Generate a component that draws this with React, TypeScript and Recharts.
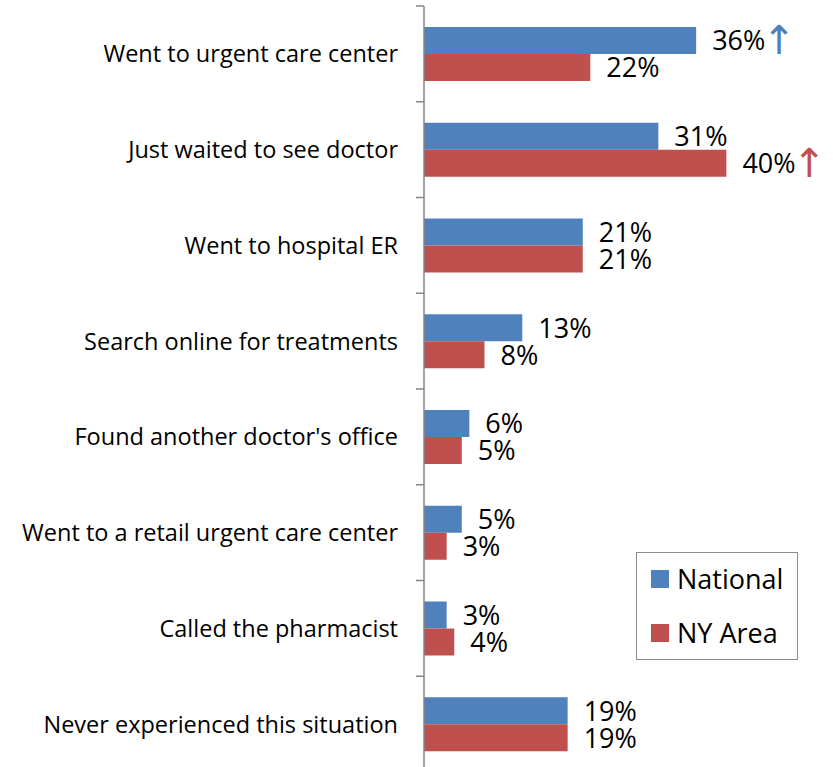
import React from 'react';
import { BarChart, Bar, XAxis, YAxis, LabelList, Legend } from 'recharts';

const categories = [
  'Went to urgent care center',
  'Just waited to see doctor',
  'Went to hospital ER',
  'Search online for treatments',
  "Found another doctor's office",
  'Went to a retail urgent care center',
  'Called the pharmacist',
  'Never experienced this situation',
];
const nationalValues = [36, 31, 21, 13, 6, 5, 3, 19];
const nyAreaValues = [22, 40, 21, 8, 5, 3, 4, 19];
const nationalUp = [true, false, false, false, false, false, false, false];
const nyAreaUp = [false, true, false, false, false, false, false, false];
const seriesNames = ['National', 'NY Area'];

const BLUE = '#4F81BD';
const RED = '#C0504D';
const AXIS = '#868686';
const FONT = '"Open Sans", Lato, sans-serif';
const LEGEND_H = 108;

const data = categories.map((c, i) => ({
  category: c,
  national: nationalValues[i],
  ny: nyAreaValues[i],
}));

const makeLabel = (upList: boolean[], color: string) => (props: any) => {
  const { x, y, width, height, value, index } = props;
  const tx = Number(x) + Number(width) + 16;
  const ty = Number(y) + Number(height) / 2;
  return (
    <text x={tx} y={ty} dy="0.37em" fontFamily={FONT} fontSize={27} fill="#000">
      {`${value}%`}
      {upList[index] ? (
        <tspan dx={-3} dy={4} fill={color} fontFamily='"DejaVu Sans"' fontSize={40}>
          ↑
        </tspan>
      ) : null}
    </text>
  );
};

const CategoryTick = (props: any) => {
  const { x, y, payload, index, visibleTicksCount } = props;
  const half = payload && payload.offset ? payload.offset : 48;
  const axisX = Number(x) + 26;
  const isLast = index === (visibleTicksCount ?? categories.length) - 1;
  return (
    <g>
      <line x1={axisX - 8} x2={axisX} y1={y - half} y2={y - half} stroke={AXIS} strokeWidth={1.5} />
      {isLast ? (
        <line x1={axisX - 8} x2={axisX} y1={y + half} y2={y + half} stroke={AXIS} strokeWidth={1.5} />
      ) : null}
      <text x={x} y={y} dy="0.36em" textAnchor="end" fontFamily={FONT} fontSize={23.5} fill="#000">
        {payload.value}
      </text>
    </g>
  );
};

const renderLegend = (props: any) => {
  const payload = [...(props.payload || [])].sort(
    (a: any, b: any) => seriesNames.indexOf(a.value) - seriesNames.indexOf(b.value)
  );
  return (
    <div
      style={{
        width: 162,
        height: LEGEND_H,
        border: '1.5px solid #8c8c8c',
        boxSizing: 'border-box',
        background: '#fff',
        paddingTop: 8,
        paddingLeft: 14,
        fontFamily: FONT,
      }}
    >
      {payload.map((p: any, i: number) => (
        <div key={i} style={{ display: 'flex', alignItems: 'center', height: 36, marginBottom: i === 0 ? 18 : 0 }}>
          <div style={{ width: 18, height: 18, background: p.color, marginRight: 8 }} />
          <span style={{ fontSize: 27, color: '#000', lineHeight: '36px' }}>{p.value}</span>
        </div>
      ))}
    </div>
  );
};

export default function App() {
  return (
    <div style={{ position: 'absolute', left: 0, top: 0 }}>
      <BarChart
        width={833}
        height={772 + LEGEND_H}
        data={data}
        layout="vertical"
        margin={{ top: 6, right: 31, bottom: 0, left: 0 }}
        barGap={0}
        barSize={27}
      >
        <XAxis type="number" domain={[0, 50]} hide />
        <YAxis
          type="category"
          dataKey="category"
          width={424}
          axisLine={{ stroke: AXIS, strokeWidth: 1.5 }}
          tickLine={false}
          tickSize={0}
          tickMargin={26}
          interval={0}
          tick={<CategoryTick />}
        />
        <Legend
          content={renderLegend}
          wrapperStyle={{ left: 636, top: 552, width: 162, height: LEGEND_H, bottom: 'auto', right: 'auto' }}
        />
        <Bar dataKey="national" name="National" fill={BLUE} isAnimationActive={false}>
          <LabelList dataKey="national" content={makeLabel(nationalUp, BLUE)} />
        </Bar>
        <Bar dataKey="ny" name="NY Area" fill={RED} isAnimationActive={false}>
          <LabelList dataKey="ny" content={makeLabel(nyAreaUp, RED)} />
        </Bar>
      </BarChart>
    </div>
  );
}
